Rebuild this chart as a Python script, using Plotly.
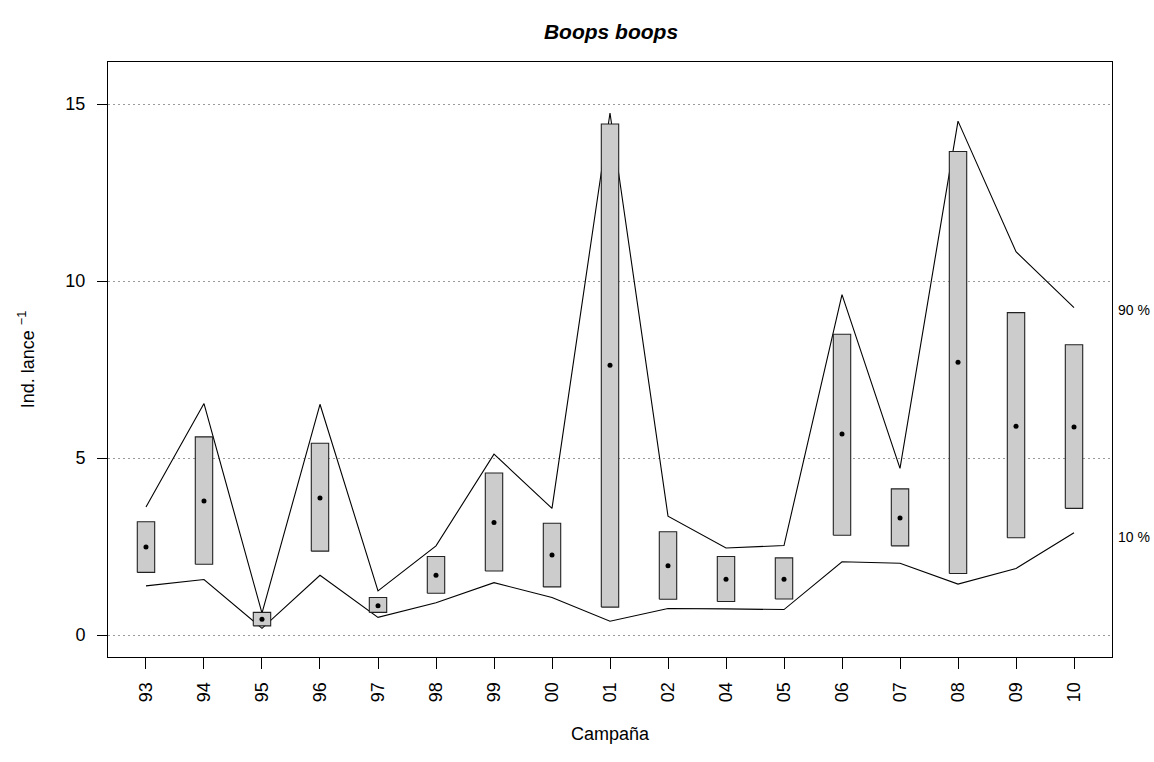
import plotly.graph_objects as go

# campañas
campanas = ["93", "94", "95", "96", "97", "98", "99", "00", "01",
            "02", "04", "05", "06", "07", "08", "09", "10"]

# media (punto), intervalo de confianza (caja) y percentiles 10/90 (líneas)
media = [2.49, 3.79, 0.45, 3.87, 0.83, 1.69, 3.18, 2.26, 7.62,
         1.96, 1.58, 1.58, 5.68, 3.31, 7.71, 5.90, 5.88]
ic_sup = [3.20, 5.60, 0.64, 5.42, 1.06, 2.22, 4.58, 3.16, 14.44,
          2.92, 2.22, 2.18, 8.50, 4.13, 13.66, 9.11, 8.20]
ic_inf = [1.77, 2.00, 0.26, 2.37, 0.64, 1.18, 1.81, 1.36, 0.79,
          1.01, 0.95, 1.02, 2.82, 2.52, 1.74, 2.75, 3.58]
p90 = [3.62, 6.54, 0.62, 6.52, 1.25, 2.52, 5.11, 3.58, 14.75,
       3.36, 2.46, 2.53, 9.62, 4.71, 14.52, 10.83, 9.25]
p10 = [1.39, 1.57, 0.19, 1.69, 0.50, 0.91, 1.48, 1.06, 0.39,
       0.75, 0.74, 0.72, 2.07, 2.03, 1.44, 1.88, 2.89]

y_ticks = [0, 5, 10, 15]

x = list(range(len(campanas)))
hw = 0.15  # media anchura de la caja

# cajas como polígonos
bx, by = [], []
for i in x:
    bx += [i - hw, i + hw, i + hw, i - hw, i - hw, None]
    by += [ic_inf[i], ic_inf[i], ic_sup[i], ic_sup[i], ic_inf[i], None]

fig = go.Figure()

fig.add_trace(go.Scatter(x=x, y=p90, mode="lines",
                         line=dict(color="black", width=1.1)))
fig.add_trace(go.Scatter(x=x, y=p10, mode="lines",
                         line=dict(color="black", width=1.1)))
fig.add_trace(go.Scatter(x=bx, y=by, mode="lines", fill="toself",
                         fillcolor="#cccccc",
                         line=dict(color="#222222", width=1.1)))
fig.add_trace(go.Scatter(x=x, y=media, mode="markers",
                         marker=dict(color="black", size=5)))

fig.add_annotation(x=1, xref="paper", y=p90[-1], yref="y", text="90 %",
                   showarrow=False, xanchor="left", xshift=4, yshift=-2,
                   font=dict(size=14, color="black"))
fig.add_annotation(x=1, xref="paper", y=p10[-1], yref="y", text="10 %",
                   showarrow=False, xanchor="left", xshift=4, yshift=-4,
                   font=dict(size=14, color="black"))

fig.update_layout(
    width=1154, height=762,
    margin=dict(l=108, r=42, t=62, b=105),
    paper_bgcolor="white", plot_bgcolor="white",
    showlegend=False,
    font=dict(family="Liberation Sans, Arial, sans-serif", color="black", size=18),
    title=dict(text="<b><i>Boops boops</i></b>", x=0.5295, xanchor="center",
               y=1 - 32 / 762, yanchor="middle", font=dict(size=21)),
    xaxis=dict(
        range=[-0.655, 16.655], tickmode="array", tickvals=x, ticktext=campanas,
        tickangle=-90, ticks="outside", ticklen=11, tickcolor="black",
        ticklabelstandoff=6,
        showline=True, linecolor="black", linewidth=1, mirror=True,
        showgrid=False, zeroline=False,
        title=dict(text="Campaña", standoff=26, font=dict(size=18)),
    ),
    yaxis=dict(
        range=[-0.62, 16.19], tickmode="array", tickvals=y_ticks,
        ticks="outside", ticklen=10, tickcolor="black",
        ticklabelstandoff=8,
        showline=True, linecolor="black", linewidth=1, mirror=True,
        showgrid=True, gridcolor="#9a9a9a", griddash="2px,3px", gridwidth=1,
        zeroline=False,
        title=dict(text="Ind. lance <sup>−1</sup>", standoff=26, font=dict(size=18)),
    ),
)

fig.write_html("out.html", config={"displayModeBar": False},
               post_script="document.body.style.margin='0';")
